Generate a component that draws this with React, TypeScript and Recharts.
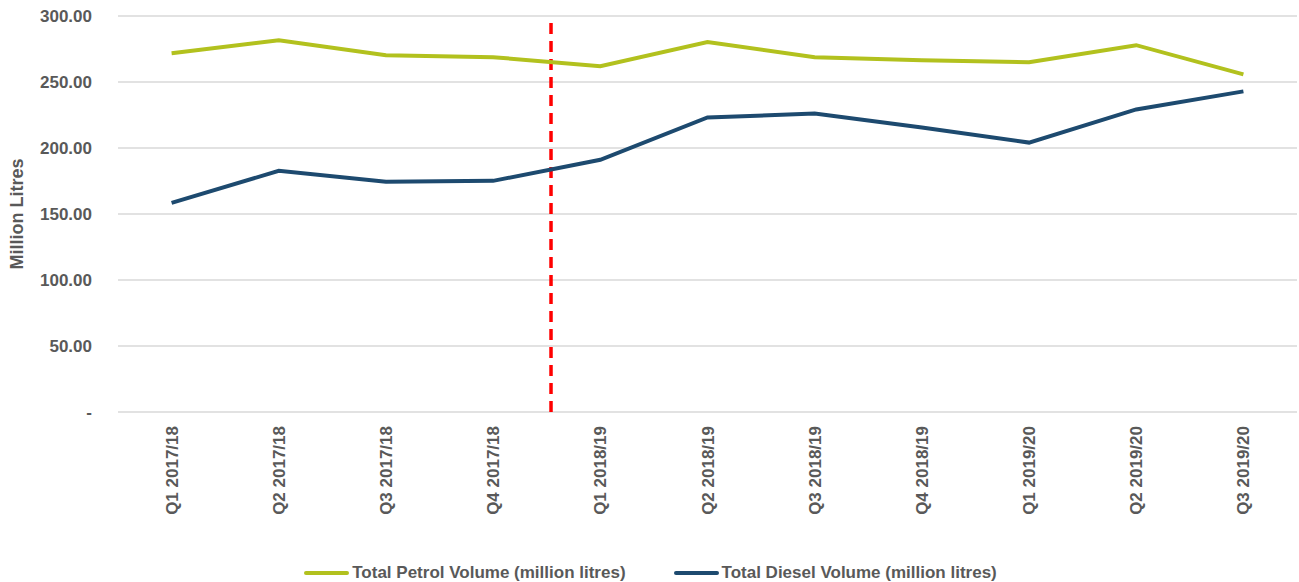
import React from 'react'
import {
  LineChart,
  Line,
  XAxis,
  YAxis,
  CartesianGrid,
  ReferenceLine,
  Legend,
  Label,
} from 'recharts'

const quarters = [
  'Q1 2017/18',
  'Q2 2017/18',
  'Q3 2017/18',
  'Q4 2017/18',
  'Q1 2018/19',
  'Q2 2018/19',
  'Q3 2018/19',
  'Q4 2018/19',
  'Q1 2019/20',
  'Q2 2019/20',
  'Q3 2019/20',
]
const petrol = [271.8, 281.7, 270.3, 268.8, 261.9, 280.2, 268.8, 266.5, 265.0, 277.9, 255.8]
const diesel = [158.4, 182.7, 174.4, 175.1, 191.1, 223.1, 226.1, 215.5, 204.1, 229.2, 242.9]
const yTicks = [0, 50, 100, 150, 200, 250, 300]

const PETROL = '#B2C11E'
const DIESEL = '#1D4A6F'
const TEXT = '#595959'
const FONT = '"Liberation Sans", Arial, sans-serif'

const data = quarters.map((q, i) => ({ idx: i, name: q, petrol: petrol[i], diesel: diesel[i] }))

function XTick(props: any) {
  const { x, y, payload } = props
  return (
    <text
      x={x + 6}
      y={y + 6}
      transform={`rotate(-90, ${x + 6}, ${y + 6})`}
      textAnchor='end'
      fill={TEXT}
      fontSize={17}
      fontWeight='bold'
      fontFamily={FONT}
    >
      {quarters[payload.value]}
    </text>
  )
}

function LegendBox() {
  const items = [
    { label: 'Total Petrol Volume (million litres)', color: PETROL },
    { label: 'Total Diesel Volume (million litres)', color: DIESEL },
  ]
  return (
    <div style={{ display: 'flex', justifyContent: 'center', gap: 48, fontFamily: FONT, paddingLeft: 4, paddingTop: 5 }}>
      {items.map((it) => (
        <div key={it.label} style={{ display: 'flex', alignItems: 'center' }}>
          <div style={{ width: 45, height: 4, borderRadius: 2, background: it.color, marginRight: 3 }} />
          <span style={{ fontSize: 17, fontWeight: 'bold', color: TEXT }}>{it.label}</span>
        </div>
      ))}
    </div>
  )
}

export default function App() {
  return (
    <div style={{ position: 'absolute', left: 0, top: 0, background: '#fff' }}>
      <LineChart width={1299} height={582} data={data} margin={{ top: 16, right: 2, bottom: 0, left: 0 }}>
        <CartesianGrid vertical={false} stroke='#D9D9D9' strokeWidth={1.5} />
        <XAxis
          dataKey='idx'
          type='number'
          domain={[-0.5, 10.5]}
          ticks={quarters.map((_, i) => i)}
          interval={0}
          axisLine={false}
          tickLine={false}
          tick={<XTick />}
          height={146}
        />
        <YAxis
          domain={[0, 300]}
          ticks={yTicks}
          width={118}
          axisLine={false}
          tickLine={false}
          tickMargin={20}
          tickFormatter={(v: number) => (v === 0 ? '-' : v.toFixed(2))}
          tick={{ fill: TEXT, fontSize: 17, fontWeight: 'bold', fontFamily: FONT }}
        >
          <Label
            value='Million Litres'
            angle={-90}
            position='insideLeft'
            offset={17}
            style={{ fill: TEXT, fontSize: 18, fontWeight: 'bold', fontFamily: FONT, textAnchor: 'middle' }}
          />
        </YAxis>
        <ReferenceLine x={3.54} stroke='#FF0000' strokeWidth={3.5} strokeDasharray='11 7' />
        <Legend verticalAlign='bottom' height={24} content={<LegendBox />} />
        <Line
          type='linear'
          dataKey='petrol'
          stroke={PETROL}
          strokeWidth={4}
          dot={false}
          isAnimationActive={false}
        />
        <Line
          type='linear'
          dataKey='diesel'
          stroke={DIESEL}
          strokeWidth={4}
          dot={false}
          isAnimationActive={false}
        />
      </LineChart>
    </div>
  )
}
